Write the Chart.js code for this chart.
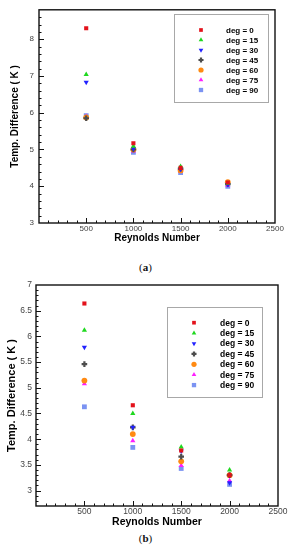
<!DOCTYPE html>
<html><head><meta charset="utf-8">
<script src="https://cdn.jsdelivr.net/npm/chart.js@4/dist/chart.umd.min.js"></script>
<style>
html,body{margin:0;padding:0;background:#fff}
body{width:307px;height:550px;position:relative;overflow:hidden;font-family:"Liberation Sans",Arial,sans-serif}
canvas{position:absolute;left:0}
.cap{position:absolute;width:307px;left:-8px;text-align:center;font-family:"Liberation Serif","DejaVu Serif",serif;font-size:11px;color:#111;line-height:12px}
</style></head>
<body>
<canvas id="ca" width="307" height="255" style="top:0"></canvas>
<div class="cap" style="top:261px">(<b>a</b>)</div>
<canvas id="cb" width="307" height="262" style="top:270px"></canvas>
<div class="cap" style="top:532px">(<b>b</b>)</div>
<script>
// ---- data ----
const reynolds = [500, 1000, 1500, 2000];
const seriesLabels = ['deg = 0', 'deg = 15', 'deg = 30', 'deg = 45', 'deg = 60', 'deg = 75', 'deg = 90'];
const xTickLabels = [500, 1000, 1500, 2000, 2500];
const yTicksA = [3, 4, 5, 6, 7, 8];
const yTicksB = [3, 3.5, 4, 4.5, 5, 5.5, 6, 6.5, 7];

// chart (a)
const a_deg0  = [8.30, 5.17, 4.50, 4.10];
const a_deg15 = [7.04, 5.09, 4.54, 4.08];
const a_deg30 = [6.83, 5.03, 4.46, 4.05];
const a_deg45 = [5.85, 5.00, 4.48, 4.06];
const a_deg60 = [5.87, 5.00, 4.43, 4.11];
const a_deg75 = [5.90, 4.96, 4.40, 4.03];
const a_deg90 = [5.92, 4.92, 4.37, 4.00];
// chart (b)
const b_deg0  = [6.64, 4.66, 3.78, 3.30];
const b_deg15 = [6.12, 4.50, 3.85, 3.40];
const b_deg30 = [5.79, 4.23, 3.77, 3.15];
const b_deg45 = [5.46, 4.23, 3.66, 3.30];
const b_deg60 = [5.14, 4.10, 3.57, 3.30];
const b_deg75 = [5.08, 3.97, 3.49, 3.19];
const b_deg90 = [4.63, 3.84, 3.43, 3.12];

// ---- styles ----
const styles = [
  {pointStyle:'rect', pointRadius:2.9, color:'#e3121b', bw:0},
  {pointStyle:'triangle', pointRadius:3.0, color:'#1fd81f', bw:0},
  {pointStyle:'triangle', pointRadius:3.0, color:'#2222ff', bw:0, rot:180},
  {pointStyle:'cross', pointRadius:2.8, color:'#4d4d4d', bw:2.2},
  {pointStyle:'circle', pointRadius:2.9, color:'#ff8a12', bw:0},
  {pointStyle:'triangle', pointRadius:3.0, color:'#ff1dff', bw:0},
  {pointStyle:'rect', pointRadius:3.4, color:'#7b93f2', bw:0}
];

function makeDatasets(series) {
  return series.map((vals, i) => {
    const s = styles[i];
    return {
      label: seriesLabels[i],
      data: reynolds.map((x, k) => ({x: x, y: vals[k]})),
      pointStyle: s.pointStyle,
      pointRadius: s.pointRadius,
      pointHoverRadius: s.pointRadius,
      pointRotation: s.rot || 0,
      backgroundColor: s.color,
      borderColor: s.color,
      pointBorderWidth: s.bw,
      showLine: false
    };
  });
}

const framePlugin = {
  id: 'frame',
  afterDraw(chart, args, o) {
    const {ctx, chartArea: ca} = chart;
    const xs = chart.scales.x, ys = chart.scales.y;
    ctx.save();
    ctx.strokeStyle = '#111';
    // minor / major ticks (inward)
    ctx.lineWidth = 1;
    ctx.beginPath();
    const nx = Math.round((xs.max - xs.min) / o.xMinor);
    for (let i = 1; i < nx; i++) {
      const v = xs.min + i * o.xMinor;
      const major = Math.abs(v / o.xMajor - Math.round(v / o.xMajor)) < 1e-6;
      const px = Math.round(xs.getPixelForValue(v)) + 0.5;
      ctx.moveTo(px, ca.bottom);
      ctx.lineTo(px, ca.bottom - (major ? 5 : 2.5));
    }
    const ny = Math.round((ys.max - ys.min) / o.yMinor);
    for (let i = 1; i < ny; i++) {
      const v = ys.min + i * o.yMinor;
      const major = Math.abs(v / o.yMajor - Math.round(v / o.yMajor)) < 1e-6;
      const py = Math.round(ys.getPixelForValue(v)) + 0.5;
      ctx.moveTo(ca.left, py);
      ctx.lineTo(ca.left + (major ? 5 : 2.5), py);
    }
    ctx.stroke();
    // frame
    ctx.lineWidth = 1.4;
    ctx.strokeRect(ca.left, ca.top, ca.right - ca.left, ca.bottom - ca.top);
    // legend box
    const lg = o.legend;
    ctx.lineWidth = 1;
    ctx.strokeStyle = '#a8a8a8';
    ctx.strokeRect(lg.x0 + 0.5, lg.y0 + 0.5, lg.x1 - lg.x0, lg.y1 - lg.y0);
    ctx.font = 'bold ' + lg.font + 'px "Liberation Sans", Arial, sans-serif';
    ctx.textBaseline = 'middle';
    ctx.textAlign = 'left';
    chart.data.datasets.forEach((ds, i) => {
      const yy = lg.row0 + i * lg.dy;
      ctx.fillStyle = ds.backgroundColor;
      ctx.strokeStyle = ds.borderColor;
      ctx.lineWidth = ds.pointBorderWidth;
      Chart.helpers.drawPoint(ctx, {
        pointStyle: ds.pointStyle, radius: ds.pointRadius * 0.9,
        rotation: ds.pointRotation, borderWidth: ds.pointBorderWidth
      }, lg.mx, yy);
      ctx.fillStyle = '#000';
      ctx.fillText(ds.label, lg.tx, yy + 0.5);
    });
    ctx.restore();
  }
};

function makeChart(id, series, cfg) {
  return new Chart(document.getElementById(id), {
    type: 'scatter',
    data: {datasets: makeDatasets(series)},
    plugins: [framePlugin],
    options: {
      responsive: false,
      animation: false,
      events: [],
      layout: {padding: {left: 0, right: cfg.padRight, top: cfg.padTop, bottom: 0}},
      plugins: {legend: {display: false}, tooltip: {enabled: false},
        frame: {xMinor: 100, xMajor: 500, yMinor: cfg.yMinor, yMajor: cfg.yMajor, legend: cfg.legend}},
      scales: {
        x: {
          type: 'linear', min: 0, max: 2500,
          afterBuildTicks: s => { s.ticks = xTickLabels.map(v => ({value: v})); },
          afterFit: s => { s.height = cfg.xH; },
          grid: {display: false, drawTicks: false},
          border: {display: false},
          ticks: {color: '#444', padding: cfg.xTickPad, font: {size: cfg.tickFont, family: '"Liberation Sans", Arial'},
            maxRotation: 0, autoSkip: false, callback: v => String(v)},
          title: {display: true, text: 'Reynolds Number', color: '#000',
            font: {size: cfg.xTitleFont, weight: 'bold', family: '"Liberation Sans", Arial'},
            padding: {top: 0, bottom: cfg.xTitlePad}}
        },
        y: {
          type: 'linear', min: cfg.yMin, max: cfg.yMax,
          afterBuildTicks: s => { s.ticks = cfg.yTicks.map(v => ({value: v})); },
          afterFit: s => { s.width = cfg.yW; },
          grid: {display: false, drawTicks: false},
          border: {display: false},
          ticks: {color: '#444', padding: cfg.yTickPad, font: {size: cfg.tickFont, family: '"Liberation Sans", Arial'},
            autoSkip: false, callback: v => String(v)},
          title: {display: true, text: 'Temp. Difference ( K )', color: '#000',
            font: {size: cfg.yTitleFont, weight: 'bold', family: '"Liberation Sans", Arial'},
            padding: {top: cfg.yTitlePad, bottom: 0}}
        }
      }
    }
  });
}

makeChart('ca', [a_deg0, a_deg15, a_deg30, a_deg45, a_deg60, a_deg75, a_deg90], {
  padRight: 32, padTop: 8, xH: 32, yW: 39, yMin: 3, yMax: 8.8, yTicks: yTicksA,
  yMinor: 0.2, yMajor: 1, tickFont: 8, xTickPad: 1, yTickPad: 5,
  xTitleFont: 10, xTitlePad: 11, yTitleFont: 10, yTitlePad: 9.5,
  legend: {x0: 174, y0: 14, x1: 268, y1: 102, mx: 201, tx: 226, row0: 30, dy: 10, font: 8}
});
makeChart('cb', [b_deg0, b_deg15, b_deg30, b_deg45, b_deg60, b_deg75, b_deg90], {
  padRight: 29, padTop: 15, xH: 26, yW: 36, yMin: 2.7, yMax: 7, yTicks: yTicksB,
  yMinor: 0.1, yMajor: 0.5, tickFont: 8.5, xTickPad: 1, yTickPad: 4,
  xTitleFont: 10.5, xTitlePad: 4, yTitleFont: 11, yTitlePad: 5,
  legend: {x0: 167, y0: 37, x1: 262, y1: 127, mx: 194, tx: 220, row0: 52.7, dy: 10.4, font: 8.5}
});
</script>
</body></html>
